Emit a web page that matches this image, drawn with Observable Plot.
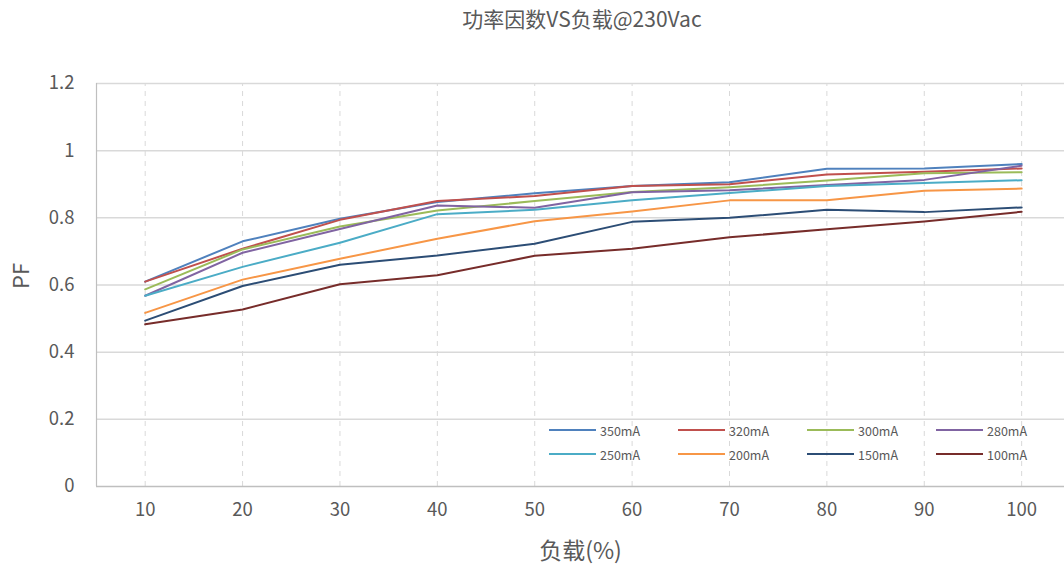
<!DOCTYPE html>
<html>
<head>
<meta charset="utf-8">
<script src="https://cdn.jsdelivr.net/npm/d3@7"></script>
<script src="https://cdn.jsdelivr.net/npm/@observablehq/plot@0.6"></script>
<style>
  html, body { margin: 0; padding: 0; background: #fff; }
  #wrap { position: relative; width: 1064px; height: 576px; font-family: "Noto Sans CJK SC", "Noto Sans", sans-serif; color: #595959; }
  #title { position: absolute; left: 100px; right: 0; top: 3px; text-align: center; font-size: 21px; color: #595959; }
  #legend { position: absolute; left: 549px; top: 418px; display: grid; grid-template-columns: repeat(4, 129px); grid-auto-rows: 24px; font-size: 12.5px; color: #595959; }
  .item { display: flex; align-items: center; }
  .swatch { width: 47px; height: 2px; margin-right: 4px; }
</style>
</head>
<body>
<div id="wrap">
  <div id="title">功率因数VS负载@230Vac</div>
  <div id="chart"></div>
  <div id="legend"></div>
</div>
<script>
const loads = [10, 20, 30, 40, 50, 60, 70, 80, 90, 100];
const seriesNames = ["350mA", "320mA", "300mA", "280mA", "250mA", "200mA", "150mA", "100mA"];
const seriesColors = ["#4F81BD", "#C0504D", "#9BBB59", "#8064A2", "#4BACC6", "#F79646", "#2C4D75", "#772C2A"];
const s350 = [0.610, 0.730, 0.797, 0.847, 0.873, 0.895, 0.906, 0.946, 0.947, 0.960];
const s320 = [0.610, 0.708, 0.794, 0.850, 0.865, 0.895, 0.900, 0.929, 0.937, 0.947];
const s300 = [0.587, 0.706, 0.774, 0.822, 0.850, 0.877, 0.891, 0.911, 0.933, 0.936];
const s280 = [0.568, 0.696, 0.767, 0.837, 0.830, 0.876, 0.882, 0.898, 0.913, 0.955];
const s250 = [0.568, 0.654, 0.726, 0.811, 0.824, 0.852, 0.874, 0.895, 0.904, 0.912];
const s200 = [0.517, 0.616, 0.678, 0.738, 0.790, 0.819, 0.852, 0.852, 0.881, 0.887];
const s150 = [0.494, 0.597, 0.660, 0.688, 0.723, 0.788, 0.800, 0.824, 0.817, 0.831];
const s100 = [0.483, 0.527, 0.602, 0.629, 0.687, 0.708, 0.742, 0.766, 0.789, 0.818];
const yTicks = [0, 0.2, 0.4, 0.6, 0.8, 1.0, 1.2];
const xTitle = "负载(%)";
const yTitle = "PF";

const allSeries = [s350, s320, s300, s280, s250, s200, s150, s100];
const data = [];
allSeries.forEach((vals, i) => {
  vals.forEach((v, j) => data.push({ series: seriesNames[i], load: loads[j], pf: v }));
});

const chart = Plot.plot({
  width: 1064,
  height: 576,
  marginLeft: 96,
  marginRight: 0,
  marginTop: 83,
  marginBottom: 90,
  style: { fontFamily: '"Noto Sans CJK SC", "Noto Sans", sans-serif', fontSize: "18.5px", color: "#595959", background: "#fff" },
  x: { type: "linear", domain: [5, 104.4] },
  y: { domain: [0, 1.2] },
  color: { domain: seriesNames, range: seriesColors },
  marks: [
    Plot.ruleX(loads, { stroke: "#d9d9d9", strokeWidth: 1, strokeDasharray: "5,5", y1: 0, y2: 1.2 }),
    Plot.ruleY(yTicks.filter(d => d > 0), { stroke: "#d9d9d9", strokeWidth: 1.5 }),
    Plot.ruleY([0], { stroke: "#bfbfbf", strokeWidth: 1.5 }),
    Plot.ruleX([5], { stroke: "#bfbfbf", strokeWidth: 1.2, y1: 0, y2: 1.2 }),
    Plot.axisX(loads, { tickSize: 0, tickPadding: 16, label: null, fontSize: 18.5, tickFormat: d => String(d) }),
    Plot.axisY(yTicks, { tickSize: 0, tickPadding: 22, label: null, fontSize: 18.5, tickFormat: d => String(+d.toFixed(1)) }),
    Plot.line(data, { x: "load", y: "pf", z: "series", stroke: "series", strokeWidth: 2, strokeLinejoin: "round" }),
    Plot.text([yTitle], { text: d => d, frameAnchor: "left", dx: -75, dy: 4, rotate: -90, fontSize: 22, fill: "#595959" }),
    Plot.text([xTitle], { text: d => d, frameAnchor: "bottom", dy: 72, fontSize: 23, fill: "#595959" })
  ]
});
document.getElementById("chart").appendChild(chart);

const legend = document.getElementById("legend");
seriesNames.forEach((name, i) => {
  const item = document.createElement("div");
  item.className = "item";
  const sw = document.createElement("span");
  sw.className = "swatch";
  sw.style.background = seriesColors[i];
  const tx = document.createElement("span");
  tx.textContent = name;
  item.appendChild(sw);
  item.appendChild(tx);
  legend.appendChild(item);
});
</script>
</body>
</html>
